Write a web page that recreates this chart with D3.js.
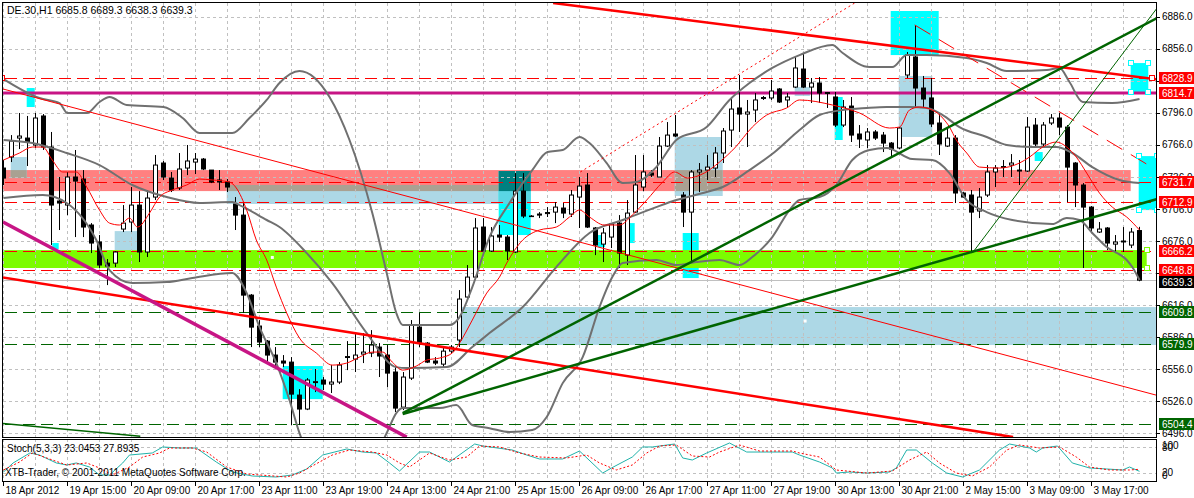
<!DOCTYPE html>
<html><head><meta charset="utf-8">
<script src="https://cdn.jsdelivr.net/npm/d3@7"></script>
<style>
body{margin:0;background:#fff}
svg{display:block}
text{font-family:"Liberation Sans",Arial,sans-serif;font-size:10px}
</style>
</head><body>
<svg id="c" width="1194" height="498"></svg>
<script>
// ---------------- DATA ----------------
const titleText = "DE.30,H1  6685.8 6689.3 6638.3 6639.3";
const stochTitle = "Stoch(5,3,3) 23.0453 27.8935";
const copyrightText = "XTB-Trader, \u00A9 2001-2011 MetaQuotes Software Corp.";

const opens = [6744.4,6754.7,6772.5,6772.5,6766.0,6793.2,6764.1,6713.5,6709.7,6736.0,
6734.1,6691.0,6675.1,6655.3,6655.3,6687.2,6693.8,6709.7,6665.7,6717.2,
6749.1,6735.0,6725.7,6744.4,6750.0,6752.8,6742.5,6733.2,6731.3,6710.7,
6700.3,6625.3,6596.3,6582.2,6569.1,6563.5,6562.5,6531.6,6518.5,6543.3,
6545.7,6541.9,6543.8,6566.8,6565.3,6570.0,6571.0,6576.6,6569.1,6553.2,
6520.3,6547.5,6595.3,6580.3,6563.5,6560.6,6572.8,6583.2,6623.5,6642.2,
6689.1,6666.6,6681.6,6679.7,6665.7,6722.8,6699.4,6701.3,6701.7,6703.1,
6706.9,6701.3,6717.2,6728.5,6688.2,6673.1,6679.7,6692.8,6662.8,6703.1,
6726.6,6739.7,6736.0,6765.0,6776.3,6719.1,6703.1,6740.7,6742.5,6744.4,
6758.5,6780.0,6800.7,6795.0,6798.8,6809.6,6810.1,6818.5,6808.2,6820.3,
6837.2,6820.3,6824.1,6814.3,6811.0,6784.7,6802.5,6776.3,6770.7,6778.2,
6775.3,6767.8,6763.2,6831.6,6848.5,6819.4,6810.1,6786.6,6765.0,6772.5,
6721.0,6719.1,6704.1,6719.1,6740.7,6744.9,6747.2,6742.5,6741.6,6784.7,
6766.9,6786.6,6791.3,6782.8,6749.1,6728.5,6707.8,6684.4,6688.2,6673.1,
6675.1,6672.2,6685.8];
const highs = [6751.9,6775.3,6796.0,6793.2,6796.0,6795.0,6778.2,6736.0,6740.7,6761.3,
6742.5,6692.8,6681.6,6659.1,6666.6,6709.7,6726.6,6722.8,6723.8,6756.6,
6751.0,6740.7,6758.5,6766.0,6758.5,6753.8,6742.5,6742.5,6734.1,6717.2,
6711.6,6626.3,6601.9,6583.2,6576.6,6569.1,6567.2,6537.2,6547.5,6556.0,
6548.5,6559.7,6562.5,6582.2,6589.7,6589.7,6592.5,6580.3,6578.5,6557.8,
6553.2,6601.9,6608.5,6581.3,6567.2,6575.7,6578.5,6630.0,6653.5,6697.5,
6697.5,6689.1,6691.0,6681.6,6739.7,6739.7,6700.3,6703.1,6707.8,6712.5,
6711.6,6723.8,6736.0,6739.7,6689.1,6688.2,6692.8,6700.3,6714.4,6756.6,
6756.6,6742.5,6773.5,6787.5,6794.1,6721.9,6742.5,6749.1,6756.6,6764.1,
6781.9,6811.0,6831.6,6808.2,6814.7,6811.9,6826.9,6819.4,6814.7,6849.2,
6852.2,6828.8,6829.7,6815.7,6815.7,6808.2,6811.0,6784.7,6781.9,6780.0,
6778.2,6768.8,6782.8,6853.2,6878.5,6830.7,6828.8,6796.0,6781.9,6775.3,
6721.9,6723.8,6725.7,6747.2,6747.2,6751.9,6757.5,6751.9,6792.2,6791.3,
6787.5,6795.0,6796.0,6784.7,6750.0,6730.3,6708.8,6693.8,6689.1,6681.6,
6689.1,6688.2,6689.3];
const lows = [6728.5,6750.0,6762.2,6746.3,6763.2,6761.3,6672.2,6686.3,6700.3,6679.7,
6679.7,6664.7,6650.7,6634.7,6651.6,6684.4,6684.4,6656.3,6661.0,6714.4,
6733.2,6721.9,6723.8,6737.8,6738.8,6742.5,6730.3,6723.8,6721.9,6686.3,
6608.5,6576.6,6576.6,6561.6,6557.8,6557.8,6503.5,6503.5,6517.5,6534.4,
6536.3,6533.5,6541.9,6555.0,6553.2,6561.6,6567.2,6548.5,6539.1,6515.7,
6517.5,6545.7,6576.6,6561.6,6559.7,6557.8,6571.0,6576.6,6620.7,6641.3,
6665.7,6665.7,6675.1,6658.2,6664.7,6697.5,6698.5,6697.5,6698.5,6692.8,
6697.5,6698.5,6688.2,6688.2,6662.8,6656.3,6669.4,6650.7,6653.5,6702.2,
6722.8,6736.0,6736.0,6764.1,6773.5,6689.1,6655.3,6721.9,6733.2,6736.0,
6749.1,6764.1,6778.2,6764.1,6787.5,6808.2,6808.2,6805.4,6801.6,6819.4,
6819.4,6805.4,6805.4,6800.7,6782.8,6782.8,6768.8,6763.2,6763.2,6770.7,
6759.4,6754.7,6762.2,6828.8,6801.6,6801.6,6782.8,6756.6,6764.1,6711.6,
6716.3,6664.7,6697.5,6717.2,6726.6,6736.0,6736.0,6728.5,6740.7,6764.1,
6764.1,6784.7,6775.3,6712.5,6707.8,6650.7,6683.5,6683.5,6667.5,6664.7,
6665.7,6669.4,6638.3];
const closes = [6735.0,6769.7,6774.4,6768.8,6791.3,6764.1,6709.7,6711.6,6736.0,6732.2,
6689.1,6674.1,6653.5,6652.5,6665.7,6692.8,6709.7,6665.7,6716.3,6747.2,
6736.0,6723.8,6743.5,6751.0,6752.8,6743.5,6731.3,6731.3,6726.6,6700.3,
6625.3,6595.3,6581.3,6569.1,6562.5,6561.6,6532.5,6518.5,6545.7,6544.2,
6541.9,6543.8,6559.7,6567.7,6569.1,6571.9,6578.5,6568.2,6552.2,6519.4,
6548.5,6597.2,6580.3,6562.5,6561.6,6572.8,6576.6,6621.6,6642.2,6688.2,
6666.6,6680.7,6679.7,6666.6,6722.8,6699.4,6698.9,6700.3,6702.7,6707.8,
6702.2,6719.1,6727.5,6689.1,6672.2,6683.5,6691.9,6664.7,6702.2,6728.5,
6740.7,6737.8,6765.0,6775.3,6774.4,6703.1,6740.7,6742.5,6745.3,6758.5,
6779.1,6799.7,6795.0,6796.9,6808.2,6810.5,6816.6,6806.3,6811.0,6838.2,
6820.3,6824.1,6814.7,6815.2,6784.7,6801.6,6775.3,6771.6,6778.2,6772.5,
6767.8,6762.2,6781.9,6850.3,6819.4,6809.1,6785.7,6766.9,6772.5,6721.0,
6717.2,6703.1,6717.2,6740.7,6744.4,6745.8,6749.1,6741.6,6782.8,6766.9,
6784.7,6791.3,6782.8,6745.3,6728.5,6707.8,6688.2,6687.2,6674.1,6675.1,
6676.0,6684.4,6639.3];

// Bollinger bands and MA: [bar index, price]
const bbUpper = [[0,6827.8],[4.5,6810.0],[7,6805.3],[8,6796.0],[10.4,6796.0],[12,6806.3],[13.25,6811.0],[15.4,6803.5],[20,6801.6],[22.4,6791.3],[24.5,6777.2],[28.6,6777.2],[30.75,6791.3],[32.9,6808.2],[34.5,6824.1],[37,6835.3],[40.75,6811.0],[43.25,6770.7],[46.1,6702.2],[47.9,6646.0],[49.1,6608.5],[49.9,6597.2],[55.75,6597.2],[57,6604.7],[58.6,6632.8],[60.75,6679.7],[63.25,6711.6],[66.1,6742.5],[68,6759.4],[69.9,6761.3],[72,6773.5],[73.25,6767.8],[75.4,6749.1],[77.4,6730.3],[79.1,6731.3],[81.6,6745.3],[84.1,6770.7],[87.9,6782.8],[90.75,6808.2],[93.25,6824.1],[96.1,6838.2],[99.5,6850.3],[103.6,6859.7],[104.9,6852.2],[108.25,6839.1],[111.1,6839.1],[112.9,6850.3],[115.4,6850.3],[120.4,6847.5],[122.9,6842.8],[125.4,6835.3],[130.4,6836.3],[132,6838.2],[133.25,6825.0],[134.9,6806.3],[138.6,6805.3],[142,6809.1]];
const bbMiddle = [[0,6770.7],[3.6,6767.8],[7.9,6758.5],[12,6747.2],[16.1,6728.5],[20.4,6717.2],[24.5,6711.6],[28.6,6712.5],[29.5,6709.7],[32.9,6695.7],[34.5,6689.1],[37.9,6664.7],[41.1,6636.6],[45.4,6589.7],[49.1,6557.8],[50.4,6556.9],[55.4,6557.8],[58.6,6576.6],[60.75,6589.7],[64.9,6614.1],[69.1,6651.6],[73.25,6683.5],[77.4,6695.7],[81.6,6707.8],[84.1,6714.4],[87.9,6721.9],[89.9,6726.6],[93.25,6742.5],[96.4,6759.4],[99.5,6780.0],[102,6794.1],[104.9,6798.8],[107.9,6800.7],[110.4,6801.6],[113.25,6801.6],[115.4,6800.7],[117.4,6794.1],[119.5,6782.8],[122.9,6773.5],[125.4,6766.0],[128.6,6764.1],[131.6,6764.1],[133.6,6758.5],[136.1,6745.3],[139.5,6733.2],[142,6730.3]];
const bbLower = [[0,6716.3],[4.9,6719.1],[7.9,6711.6],[11.6,6676.9],[13.25,6648.8],[16.1,6636.6],[20.4,6637.5],[23.6,6641.3],[28.6,6646.0],[30.4,6627.2],[32,6595.3],[34.1,6561.6],[35.75,6526.9],[37,6496.0],[38.9,6466],[42.5,6452],[45.8,6466],[47.9,6496.0],[49.1,6514.7],[49.9,6519.4],[54.5,6519.4],[56.6,6522.2],[58.6,6503.5],[60.75,6500.6],[63.25,6496.9],[66.1,6498.8],[67.9,6511.0],[69.9,6542.8],[72.4,6567.2],[74.5,6614.1],[76.1,6642.2],[77.4,6655.3],[81.6,6658.2],[84.1,6653.5],[86.6,6656.3],[89.5,6658.2],[92,6653.5],[93.6,6661.0],[96.1,6679.7],[98.25,6705.0],[99.5,6714.4],[102,6717.2],[104.1,6728.5],[106.1,6751.9],[108.25,6761.3],[110.4,6763.2],[113.6,6752.8],[116.1,6751.9],[118.25,6739.7],[120.4,6714.4],[122.9,6703.1],[126.1,6695.7],[131.1,6691.9],[132.9,6697.5],[134.5,6695.7],[136.1,6683.5],[137.9,6670.3],[140.4,6658.2],[141.1,6651.6],[142,6639.4]];
const maLine = [[0,6751.9],[2,6758.5],[3.6,6764.1],[4.9,6764.1],[6.1,6751.9],[7.4,6740.7],[9.1,6740.7],[10.4,6726.6],[12,6705.0],[13.25,6692.8],[14.5,6691.0],[15.75,6697.5],[16.75,6689.1],[18.25,6702.2],[19.5,6717.2],[21.1,6723.8],[22.9,6728.5],[24.5,6734.1],[26.1,6733.2],[28.25,6731.3],[29.1,6725.7],[30.4,6705.0],[31.6,6676.9],[32.9,6658.2],[34.1,6632.8],[35.4,6608.5],[37,6585.0],[39.1,6571.0],[41.1,6559.7],[42.9,6561.6],[44.5,6567.2],[46.1,6571.9],[47.4,6571.9],[48.6,6562.5],[49.9,6555.0],[51.6,6558.8],[52.9,6564.4],[54.5,6566.3],[56.1,6571.0],[57,6580.3],[58.6,6601.9],[60.4,6627.2],[62,6642.2],[62.9,6655.3],[64.9,6676.9],[67,6686.3],[69.1,6689.1],[70.75,6698.5],[72,6705.0],[73.25,6698.5],[75.1,6691.0],[77,6691.0],[78.6,6700.3],[80.4,6714.4],[82.4,6731.3],[83.9,6740.7],[85.5,6735.0],[87.6,6739.7],[89.5,6750.0],[91.4,6763.2],[93.6,6782.8],[95.4,6794.1],[97.9,6800.7],[99.5,6808.2],[103.6,6803.5],[107,6796.0],[110.75,6781.9],[112,6782.8],[113.25,6798.8],[114.5,6801.6],[116.1,6798.8],[117.4,6791.3],[118.25,6782.8],[119.1,6770.7],[120.4,6758.5],[122,6745.3],[124.5,6744.4],[127,6749.1],[128.25,6754.7],[129.9,6764.1],[131.6,6768.8],[132.9,6764.1],[134.1,6754.7],[135.4,6739.7],[137,6720.9],[138.6,6707.8],[140.4,6698.5],[142,6686.3]];

// Stochastic (5,3,3): [bar index, value]
const stochMain = [[0,21.4],[1.2,42.9],[3.3,66.7],[4.5,61.9],[6.6,42.9],[7.9,38.1],[9.1,42.9],[10.75,33.3],[12,14.3],[13.25,14.3],[14.9,42.9],[15.75,61.9],[18.6,66.7],[19.9,81.0],[22,78.6],[24.1,78.6],[26.6,45.2],[28.6,21.4],[31.1,11.9],[34.1,9.5],[36.1,14.3],[37.9,28.6],[39.9,61.9],[42.9,76.2],[44.9,69.0],[46.6,66.7],[48.25,42.9],[49.5,23.8],[52,69.0],[53.25,69.0],[55.75,45.2],[58.9,88.1],[59.9,83.3],[63.6,73.8],[65.4,61.9],[67,52.4],[69.9,52.4],[72,71.4],[74.9,19.0],[76,31.0],[78.6,57.1],[79.9,81.0],[81.1,81.0],[83.9,88.1],[84.9,54.8],[86.1,50.0],[87.9,66.7],[90.75,90.5],[92.9,69.0],[95.4,69.0],[98.6,69.0],[99.5,61.9],[102,45.2],[103.6,31.0],[104.1,19.0],[105.75,21.4],[107.9,19.0],[110.75,21.4],[111.6,31.0],[112.9,73.8],[114.1,73.8],[116.1,42.9],[117.9,19.0],[119.9,9.5],[122,26.2],[124.5,73.8],[125.75,88.1],[128.25,78.6],[129.1,69.0],[129.9,78.6],[131.75,83.3],[133.6,42.9],[135.75,31.0],[137.9,28.6],[139.9,26.2],[140.75,33.3],[142,23.0]];
const stochSignal = [[0,26.2],[2,45.2],[3.6,66.7],[5.4,54.8],[7.9,38.1],[10.4,42.9],[12,31.0],[13.6,14.3],[15.75,33.3],[17.4,57.1],[19.5,66.7],[20.75,78.6],[23.6,78.6],[25.4,69.0],[27.9,33.3],[30.4,16.7],[35.4,9.5],[37,19.0],[39.5,45.2],[41.1,61.9],[43.25,73.8],[46.1,69.0],[47.9,61.9],[49.5,42.9],[50.75,33.3],[53.25,66.7],[55.75,50.0],[57.9,57.1],[59.5,83.3],[62,81.0],[64.5,66.7],[67,57.1],[70.4,54.8],[72.9,61.9],[74.5,42.9],[76.6,26.2],[78.6,38.1],[80.4,66.7],[82,83.3],[84.1,85.7],[86.1,59.5],[88.25,57.1],[89.5,69.0],[92,85.7],[94.5,71.4],[98.6,71.4],[99.5,66.7],[102,57.1],[104.1,26.2],[107.9,19.0],[111.1,23.8],[113.25,50.0],[115.4,69.0],[117,42.9],[119.1,19.0],[121.1,11.9],[123.25,33.3],[125.4,73.8],[127,85.7],[129.5,78.6],[132,81.0],[134.1,57.1],[135.75,33.3],[138.25,26.2],[140.75,26.2],[142,27.9]];

// axis
const priceTicks = [6886,6856,6826,6796,6766,6736,6706,6676,6646,6616,6586,6556,6526,6496];
const timeLabels = ["18 Apr 2012","19 Apr 15:00","20 Apr 09:00","20 Apr 17:00","23 Apr 11:00","23 Apr 19:00","24 Apr 13:00","24 Apr 21:00","25 Apr 15:00","26 Apr 09:00","26 Apr 17:00","27 Apr 11:00","27 Apr 19:00","30 Apr 13:00","30 Apr 21:00","2 May 15:00","3 May 09:00","3 May 17:00"];
const stochLevels = [100,80,20,0];

// horizontal level objects
const redLevels = [6828.9,6731.7,6712.9,6666.2,6648.8];
const greenLevels = [6609.8,6579.9,6504.4];
const magentaLevel = 6814.7;
const bidPrice = 6639.3;

// price labels on the right axis
const tagPrices = [6828.9,6814.7,6731.7,6712.9,6666.2,6648.8,6639.3,6609.8,6579.9,6504.4];
const tagKinds  = ["red","red","red","red","red","red","black","green","green","green"];

// rectangles: bar index from/to, price from/to, kind
const rectT1 = [-2,0.9,13.9,27.9,56.8,83.9,111.9,98.9,2.9,6.1,34.9,61.9,74.3,77.9,84.9,110.9,103.9,128.9,140.9,141.9,-2];
const rectT2 = [140.9,2.9,17.1,65.9,150,89.9,116.1,100.8,3.9,6.9,39.9,65.9,75.2,78.9,86.9,116.9,104.9,129.9,143.1,144.2,142.9];
const rectP1 = [6742.5,6754.7,6685.3,6728.5,6614.1,6773.5,6830.7,6820.3,6819.4,6674.1,6558.8,6741.6,6681.6,6692.8,6683.5,6891.6,6811.0,6759.4,6842.8,6755.6,6667.5];
const rectP2 = [6722.8,6735.0,6667.5,6710.7,6578.5,6718.2,6773.5,6811.9,6801.6,6668.5,6527.8,6681.6,6670.3,6674.1,6641.3,6850.3,6770.7,6751.0,6815.7,6705.0,6650.7];
const rectKind = ["pink","lightblue","lightblue","lightblue","lightblue","lightblue","lightblue","lightblue","cyan","cyan","cyan","cyan","cyan","cyan","cyan","cyan","cyan","cyan","cyanSel","cyanSel","green"];

// trend lines: [bar1, price1, bar2, price2]
const trendT1 = [68.7,-0.44,-0.06,72.1,113.9,49.9,49.9,121.1,-0.44,-0.06];
const trendP1 = [6899.1,6642.2,6818.5,6740.7,6878.5,6514.7,6513.8,6664.7,6505.3,6693.8];
const trendT2 = [144.3,126.2,144.06,106.4,143.1,144.2,144.2,144.2,17.1,50.4];
const trendP2 = [6827.5,6492.2,6531.6,6899.1,6747.2,6885.0,6715.3,6894.4,6493.1,6492.2];
const trendKind = ["redThick","redThick","redThin","redDot","redDash","greenThick","greenThick","greenThin","greenMid","magenta"];

const whiteDots = [[33.6,6660.6],[100.2,6601.0]];

// ---------------- STYLES ----------------
const rectColor = {pink:"#ff8080", lightblue:"#add8e6", cyan:"#00ffff", cyanSel:"#00ffff", green:"#7cfc00"};
const overlapColor = {"pink|lightblue":"#a9a192","lightblue|cyan":"#5ad6e4","pink|cyan":"#008080"};
const lineStyle = {
  redThick:{c:"#ff0000",w:2.5,d:null},
  redThin:{c:"#ff0000",w:1,d:null},
  redDot:{c:"#ff0000",w:1,d:"2,3"},
  redDash:{c:"#ff0000",w:1,d:"18,10"},
  greenThick:{c:"#006400",w:2.5,d:null},
  greenThin:{c:"#006400",w:1,d:null},
  greenMid:{c:"#006400",w:1.5,d:null},
  magenta:{c:"#c71585",w:3.5,d:null}
};
const tagColor = {red:"#ff0000", black:"#000000", green:"#006400"};

// ---------------- DRAW ----------------
const svg = d3.select("#c");
const L=3, R=1156, T=3, B=437, ST=439, SB=481;
const x = d3.scaleLinear().domain([0,142]).range([3.5,1139.5]);
const y = d3.scaleLinear().domain([6492.3,6899.1]).range([B,T]);
const ys = d3.scaleLinear().domain([0,100]).range([SB,ST]);

svg.append("rect").attr("width",1194).attr("height",498).attr("fill","#fff");
const defs = svg.append("defs");
defs.append("clipPath").attr("id","mc").append("rect").attr("x",L).attr("y",T).attr("width",R-L).attr("height",B-T);
defs.append("clipPath").attr("id","sc").append("rect").attr("x",L).attr("y",ST).attr("width",R-L).attr("height",SB-ST);

const main = svg.append("g").attr("clip-path","url(#mc)");

// rectangles
const rects = rectT1.map((t,i)=>({x1:x(Math.min(t,rectT2[i])),x2:x(Math.max(t,rectT2[i])),
  y1:y(Math.max(rectP1[i],rectP2[i])),y2:y(Math.min(rectP1[i],rectP2[i])),k:rectKind[i]}));
const base = rects.filter(r=>r.k!=="green");
main.selectAll(".rc").data(base).join("rect")
  .attr("x",r=>r.x1).attr("y",r=>r.y1).attr("width",r=>r.x2-r.x1).attr("height",r=>r.y2-r.y1)
  .attr("fill",r=>rectColor[r.k]);
// overlap colouring (MT4 style combination)
const kb = k=>k==="cyanSel"?"cyan":k;
const ovs=[];
["pink|lightblue","lightblue|cyan","pink|cyan"].forEach(pair=>{
  const [a,b]=pair.split("|");
  base.forEach(r1=>{ if(kb(r1.k)!==a) return;
    base.forEach(r2=>{ if(kb(r2.k)!==b) return;
      const X1=Math.max(r1.x1,r2.x1),X2=Math.min(r1.x2,r2.x2),Y1=Math.max(r1.y1,r2.y1),Y2=Math.min(r1.y2,r2.y2);
      if(X2>X1&&Y2>Y1) ovs.push({X1,X2,Y1,Y2,c:overlapColor[pair]});
    });});
});
main.selectAll(".ov").data(ovs).join("rect")
  .attr("x",d=>d.X1).attr("y",d=>d.Y1).attr("width",d=>d.X2-d.X1).attr("height",d=>d.Y2-d.Y1).attr("fill",d=>d.c);
main.selectAll(".gr").data(rects.filter(r=>r.k==="green")).join("rect")
  .attr("x",r=>r.x1).attr("y",r=>r.y1).attr("width",r=>r.x2-r.x1).attr("height",r=>r.y2-r.y1)
  .attr("fill",rectColor.green);

// grid
const gridBars = d3.range(0,143,4);
main.selectAll(".vg").data(gridBars).join("line")
  .attr("x1",d=>x(d)).attr("x2",d=>x(d)).attr("y1",T).attr("y2",B)
  .attr("stroke","#c0c0c0").attr("stroke-dasharray","3,3");
main.selectAll(".hg").data(priceTicks).join("line")
  .attr("x1",L).attr("x2",R).attr("y1",d=>Math.round(y(d))+0.5).attr("y2",d=>Math.round(y(d))+0.5)
  .attr("stroke","#c0c0c0").attr("stroke-dasharray","3,3");

// level lines
main.append("line").attr("x1",L).attr("x2",R).attr("y1",Math.round(y(bidPrice))+0.5).attr("y2",Math.round(y(bidPrice))+0.5).attr("stroke","#c0c0c0");
main.selectAll(".rl").data(redLevels).join("line")
  .attr("x1",L+2).attr("x2",R).attr("y1",d=>Math.round(y(d))+0.5).attr("y2",d=>Math.round(y(d))+0.5)
  .attr("stroke","#ff0000").attr("stroke-dasharray","12,6");
main.selectAll(".gl").data(greenLevels).join("line")
  .attr("x1",L+2).attr("x2",R).attr("y1",d=>Math.round(y(d))+0.5).attr("y2",d=>Math.round(y(d))+0.5)
  .attr("stroke","#006400").attr("stroke-dasharray","12,6");
main.append("line").attr("x1",L).attr("x2",R).attr("y1",y(magentaLevel)).attr("y2",y(magentaLevel))
  .attr("stroke","#c71585").attr("stroke-width",3);

// candles
const idx = d3.range(opens.length);
const cg = main.append("g");
cg.selectAll(".wk").data(idx).join("line")
  .attr("x1",i=>x(i)).attr("x2",i=>x(i)).attr("y1",i=>y(highs[i])).attr("y2",i=>y(lows[i]))
  .attr("stroke","#000");
cg.selectAll(".bd").data(idx).join("rect")
  .attr("x",i=>x(i)-2).attr("width",4)
  .attr("y",i=>y(Math.max(opens[i],closes[i])))
  .attr("height",i=>Math.max(0.01,Math.abs(y(opens[i])-y(closes[i]))))
  .attr("fill",i=>closes[i]>=opens[i]?"#fff":"#000")
  .attr("stroke","#000");

// indicators
const ln = d3.line().x(d=>x(d[0])).y(d=>y(d[1])).curve(d3.curveMonotoneX);
[bbUpper,bbMiddle,bbLower].forEach(s=>{
  main.append("path").attr("d",ln(s)).attr("fill","none").attr("stroke","#707070").attr("stroke-width",2);
});
main.append("path").attr("d",ln(maLine)).attr("fill","none").attr("stroke","#ff0000").attr("stroke-width",1);

// trend lines
trendT1.forEach((t,i)=>{
  const st=lineStyle[trendKind[i]];
  const l=main.append("line").attr("x1",x(t)).attr("y1",y(trendP1[i])).attr("x2",x(trendT2[i])).attr("y2",y(trendP2[i]))
    .attr("stroke",st.c).attr("stroke-width",st.w);
  if(st.d) l.attr("stroke-dasharray",st.d);
});

// small markers / handles
main.selectAll(".wd").data(whiteDots).join("rect")
  .attr("x",d=>x(d[0])-1.5).attr("y",d=>y(d[1])-1.5).attr("width",3).attr("height",3).attr("fill","#fff");
const handles=[];
rects.forEach(r=>{ if(r.k==="cyanSel"){ [[r.x1,r.y1],[r.x2,r.y1],[r.x1,r.y2],[r.x2,r.y2]].forEach(p=>handles.push({p,c:"#00ffff"})); }
  if(r.k==="green"){ [[r.x2,r.y1],[r.x2,r.y2]].forEach(p=>handles.push({p,c:"#7cfc00"})); } });
[[x(-0.2),y(redLevels[0])],[x(143.6),y(redLevels[0])]].forEach(p=>handles.push({p,c:"#ff0000"}));
main.selectAll(".hd").data(handles).join("rect")
  .attr("x",d=>Math.round(d.p[0])-2.5).attr("y",d=>Math.round(d.p[1])-2.5).attr("width",5).attr("height",5)
  .attr("fill","#fff").attr("stroke",d=>d.c);

// ---------- stochastic panel ----------
const sub = svg.append("g").attr("clip-path","url(#sc)");
sub.selectAll(".vg").data(gridBars).join("line")
  .attr("x1",d=>x(d)).attr("x2",d=>x(d)).attr("y1",ST).attr("y2",SB)
  .attr("stroke","#c0c0c0").attr("stroke-dasharray","3,3");
sub.selectAll(".hg").data([80,20]).join("line")
  .attr("x1",L).attr("x2",R).attr("y1",d=>Math.round(ys(d))+0.5).attr("y2",d=>Math.round(ys(d))+0.5)
  .attr("stroke","#c0c0c0").attr("stroke-dasharray","3,3");
const sl = d3.line().x(d=>x(d[0])).y(d=>ys(d[1]));
sub.append("path").attr("d",sl(stochMain)).attr("fill","none").attr("stroke","#20b2aa").attr("stroke-width",1);
sub.append("path").attr("d",sl(stochSignal)).attr("fill","none").attr("stroke","#ff0000").attr("stroke-width",1).attr("stroke-dasharray","2,2");

// frames
svg.append("rect").attr("x",L-0.5).attr("y",T-0.5).attr("width",R-L+1).attr("height",B-T+1).attr("fill","none").attr("stroke","#000");
svg.append("rect").attr("x",L-0.5).attr("y",ST+0.5).attr("width",R-L+1).attr("height",SB-ST).attr("fill","none").attr("stroke","#000");

// texts
svg.append("text").attr("x",7).attr("y",14).style("font-size","10.5px").text(titleText);
svg.append("text").attr("x",7).attr("y",452).text(stochTitle);
svg.append("text").attr("x",5).attr("y",476).text(copyrightText);

// right price axis (labels entirely covered by a price tag are not shown, like the terminal does)
const tagY = tagPrices.map(p=>y(p));
svg.selectAll(".pt").data(priceTicks).join("line")
  .attr("x1",R).attr("x2",R+4).attr("y1",d=>Math.round(y(d))+0.5).attr("y2",d=>Math.round(y(d))+0.5).attr("stroke","#000");
svg.selectAll(".pl").data(priceTicks.filter(p=>!tagY.some(t=>Math.abs(t-y(p))<4))).join("text")
  .attr("x",1162).attr("y",d=>y(d)+3.5).text(d=>d.toFixed(1));
// stoch axis: 100/80 and 20/0 share the thin panel
svg.selectAll(".sl").data(stochLevels).join("text")
  .attr("x",1162).attr("y",d=>Math.max(445,Math.min(475,ys(d)))+3.5).text(d=>d);

// price tags with simple collision push
const tagPos = tagPrices.map(p=>Math.round(y(p)));
for(let i=1;i<tagPos.length;i++){ if(tagPos[i]-tagPos[i-1]<12) tagPos[i]=tagPos[i-1]+12; }
const tg = svg.selectAll(".tg").data(tagPrices).join("g").attr("transform",(d,i)=>`translate(1159,${tagPos[i]})`);
tg.append("rect").attr("x",0).attr("y",-6).attr("width",35).attr("height",12).attr("fill",(d,i)=>tagColor[tagKinds[i]]);
tg.append("text").attr("x",3).attr("y",3.5).attr("fill","#fff").text(d=>d.toFixed(1));

// time axis
svg.selectAll(".tt").data(timeLabels).join("line")
  .attr("x1",(d,i)=>x(i*8)).attr("x2",(d,i)=>x(i*8)).attr("y1",SB).attr("y2",SB+5).attr("stroke","#000");
svg.selectAll(".tl").data(timeLabels).join("text")
  .attr("x",(d,i)=>x(i*8)+2).attr("y",494).text(d=>d);
</script>
</body></html>
